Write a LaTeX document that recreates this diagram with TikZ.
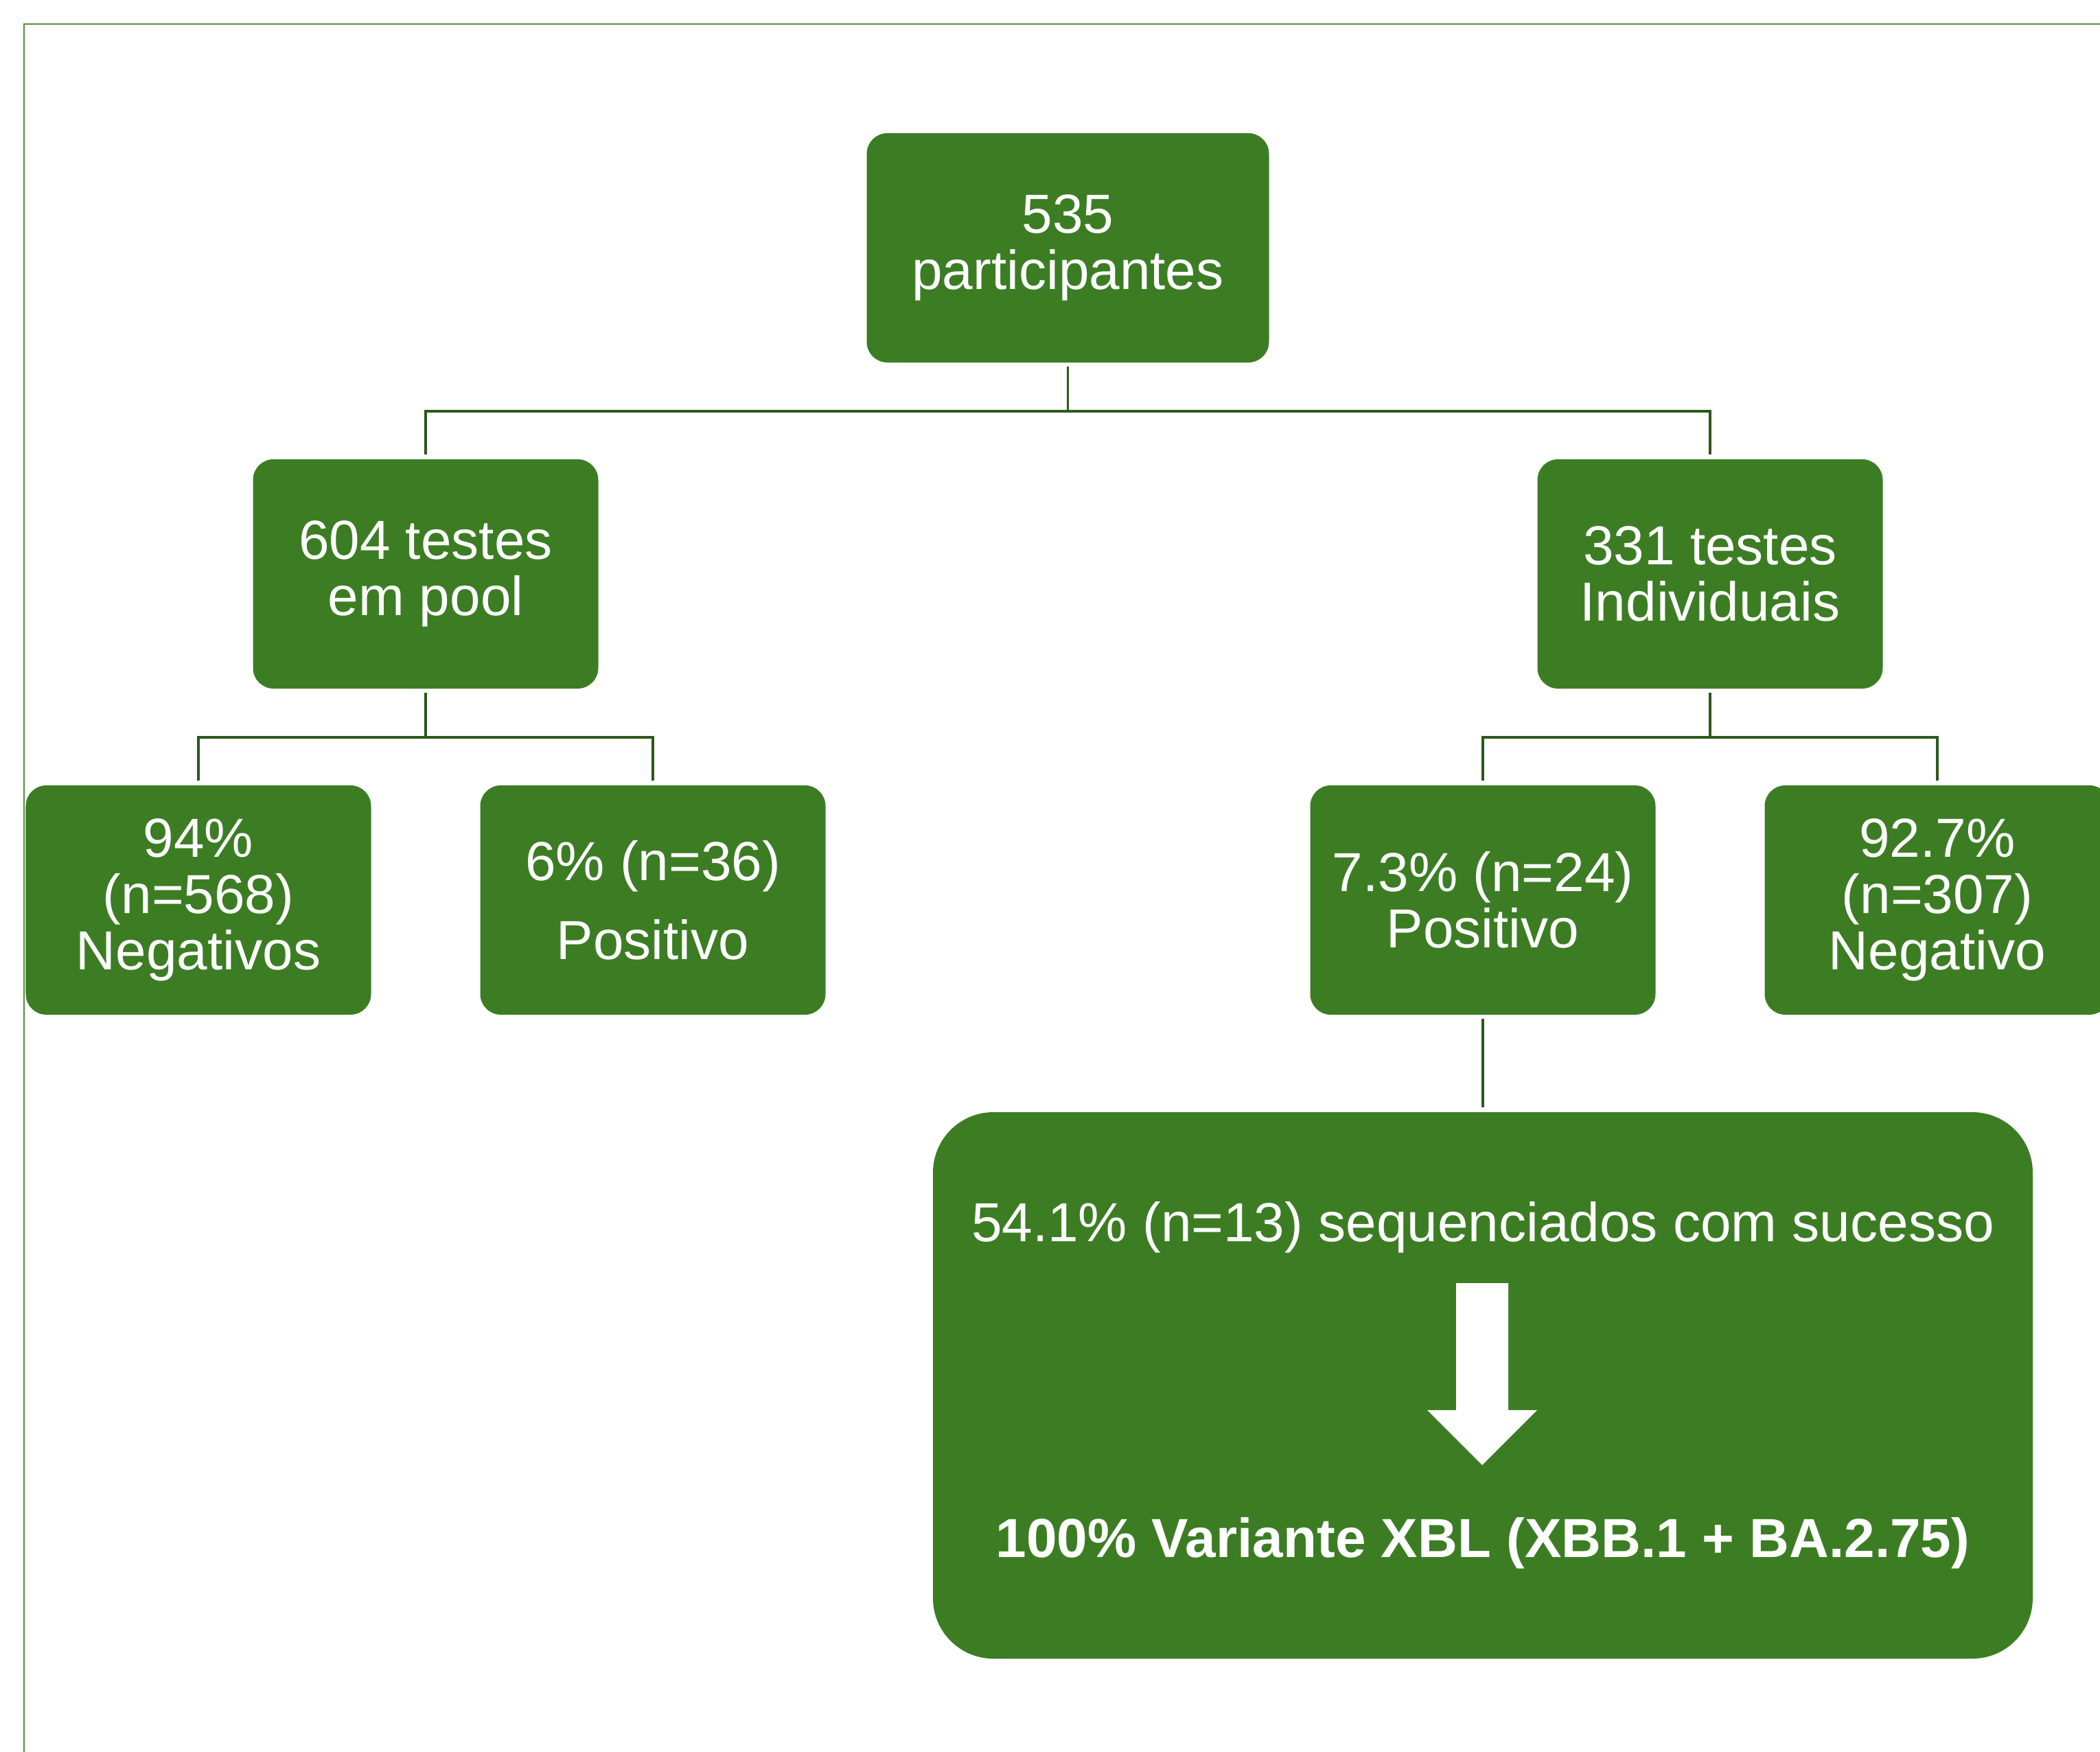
\documentclass[tikz,border=0pt]{standalone}
\usepackage{fontspec}
\setmainfont{Liberation Sans}
\usepackage{tikz}
\usetikzlibrary{trees, calc}

\definecolor{boxgreen}{RGB}{60,125,36}
\definecolor{linegreen}{RGB}{44,88,28}
\definecolor{framegreen}{RGB}{82,142,62}

\begin{document}
\begin{tikzpicture}[thin,
      level distance=47.5mm,
      level 1/.style={sibling distance=187.1mm},
      level 2/.style={sibling distance=66.2mm},
      level 3/.style={level distance=70.7mm},
      every node/.style={text=white, align=center, font=\fontsize{22.8}{23.3}\selectfont},
      result/.style={rectangle, rounded corners=3mm, fill=boxgreen,
        minimum width=50.3mm, minimum height=33.4mm, inner sep=0mm},
      edge from parent/.style={draw=linegreen, line width=1.1pt, shorten <=0.5mm, shorten >=0.6mm},
      edge from parent path={(\tikzparentnode.south) -- ++(0,-7mm) -| (\tikzchildnode.north)}]

      \useasboundingbox (0,0) rectangle (30.59,-25.52);
      \draw[framegreen, line width=0.85pt] (0.35,-26) |- (31,-0.35);

      \node[result, minimum width=58.6mm, minimum height=33.4mm] (root) at (15.555,-3.61) {535\\participantes}
        child { node[result] (pool) {604 testes\\em pool}
          child { node[result] (poolneg) {94\%\\(n=568)\\Negativos} }
          child { node[result] (poolpos) {6\% (n=36)\\[3.3mm]Positivo} }
        }
        child { node[result] (indiv) {331 testes\\Individuais}
          child { node[result] (indivpos) {7.3\% (n=24)\\Positivo}
            child { node[result, rounded corners=8.8mm, minimum width=160.2mm, minimum height=79.6mm] (seq)
              {54.1\% (n=13) sequenciados com sucesso\\[37.8mm]\textbf{100\% Variante XBL (XBB.1 + BA.2.75)}} }
          }
          child { node[result] (indivneg) {92.7\%\\(n=307)\\Negativo} }
        };

      % seta dentro da caixa final
      \fill[white] (21.21,-18.69) -- (21.97,-18.69) -- (21.97,-20.54) -- (22.39,-20.54)
        -- (21.59,-21.34) -- (20.79,-20.54) -- (21.21,-20.54) -- cycle;
    \end{tikzpicture}
\end{document}
